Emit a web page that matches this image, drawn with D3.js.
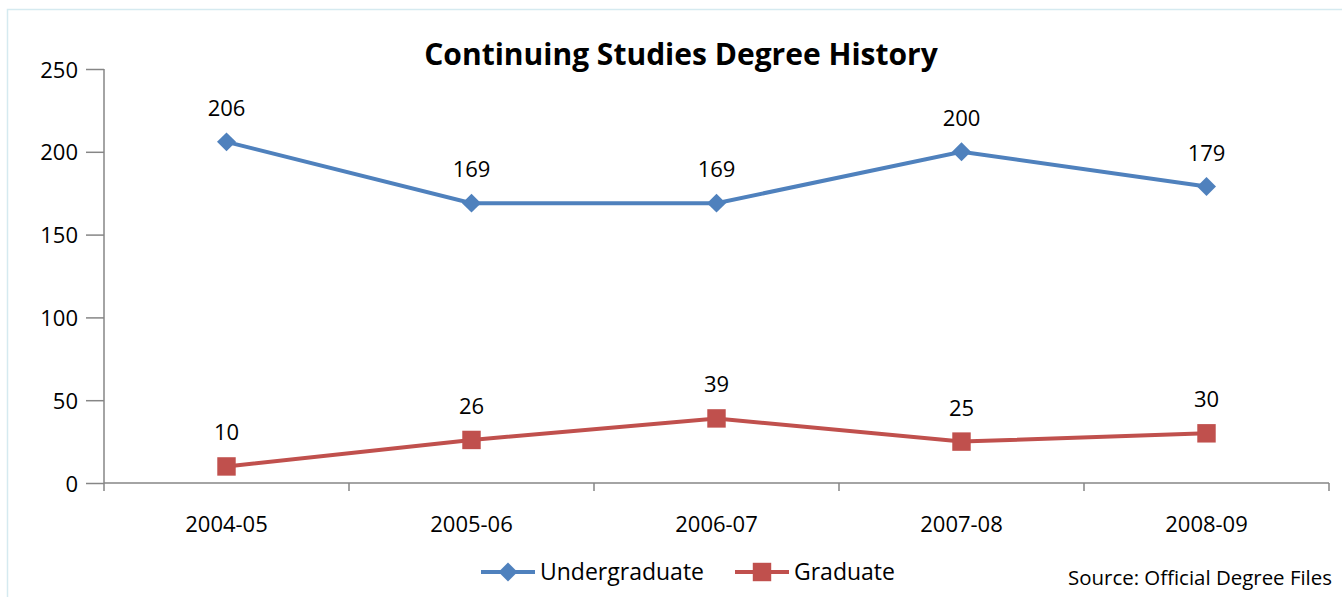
<!DOCTYPE html>
<html>
<head>
<meta charset="utf-8">
<script src="https://cdn.jsdelivr.net/npm/d3@7"></script>
<style>
  html, body { margin: 0; padding: 0; background: #fff; overflow: hidden; }
  svg { display: block; }
  text { font-family: "Open Sans", "Liberation Sans", sans-serif; fill: #000; }
</style>
</head>
<body>
<div id="chart"></div>
<script>
// Data
const years = ["2004-05", "2005-06", "2006-07", "2007-08", "2008-09"];
const undergraduate = [206, 169, 169, 200, 179];
const graduate = [10, 26, 39, 25, 30];
const yTicks = [0, 50, 100, 150, 200, 250];

const width = 1342, height = 597;
const margin = { top: 69, right: 13, bottom: 114, left: 104 };
const innerWidth = width - margin.left - margin.right;
const innerHeight = height - margin.top - margin.bottom;

const svg = d3.select("#chart")
    .append("svg")
    .attr("width", width)
    .attr("height", height);

// outer chart border (cut at right/bottom like the reference)
svg.append("path")
    .attr("d", `M7.5,${height}V9.5H${width}`)
    .attr("fill", "none")
    .attr("stroke", "#d5eaf0")
    .attr("stroke-width", 1.5);

const innerChart = svg.append("g")
    .attr("transform", `translate(${margin.left}, ${margin.top})`);

const xScale = d3.scaleBand().domain(years).range([0, innerWidth]);
const yScale = d3.scaleLinear().domain([0, 250]).range([innerHeight, 0]);

// Y axis
const leftAxis = d3.axisLeft(yScale).tickValues(yTicks).tickSize(18).tickPadding(8);
const yAxis = innerChart.append("g").call(leftAxis);
yAxis.select(".domain").attr("d", `M0,0V${innerHeight}`);
yAxis.selectAll("text").attr("dy", null).attr("y", 8);

// X axis
const bottomAxis = d3.axisBottom(xScale).tickSize(0).tickPadding(28);
const xAxis = innerChart.append("g")
    .attr("transform", `translate(0, ${innerHeight})`)
    .call(bottomAxis);
xAxis.select(".domain").attr("d", `M0,0H${innerWidth}`);
xAxis.selectAll("text").attr("dy", null).attr("y", 49);
// boundary ticks between categories
xAxis.selectAll(".bound")
    .data(d3.range(years.length + 1))
    .join("line")
    .attr("class", "bound")
    .attr("x1", i => i * xScale.bandwidth())
    .attr("x2", i => i * xScale.bandwidth())
    .attr("y1", 0).attr("y2", 8);

[yAxis, xAxis].forEach(ax => {
    ax.attr("font-size", 22).attr("font-family", "'Open Sans', sans-serif");
    ax.selectAll(".domain, line").attr("stroke", "#868686").attr("stroke-width", 1.5);
    ax.selectAll("text").attr("fill", "#000");
});

const cx = d => xScale(d) + xScale.bandwidth() / 2;

const series = [
    { name: "Undergraduate", values: undergraduate, color: "#4f81bd", shape: d3.symbolSquare, size: 180, rotate: 45 },
    { name: "Graduate", values: graduate, color: "#c0504d", shape: d3.symbolSquare, size: 340, rotate: 0 }
];

const line = d3.line().x((d, i) => cx(years[i])).y(d => yScale(d));

series.forEach(s => {
    innerChart.append("path")
        .datum(s.values)
        .attr("d", line)
        .attr("fill", "none")
        .attr("stroke", s.color)
        .attr("stroke-width", 4);

    innerChart.selectAll(null)
        .data(s.values)
        .join("path")
        .attr("transform", (d, i) => `translate(${cx(years[i])}, ${yScale(d)}) rotate(${s.rotate})`)
        .attr("d", d3.symbol().type(s.shape).size(s.size))
        .attr("fill", s.color);

    innerChart.selectAll(null)
        .data(s.values)
        .join("text")
        .attr("x", (d, i) => cx(years[i]))
        .attr("y", d => yScale(d) - 26)
        .attr("text-anchor", "middle")
        .attr("font-size", 22)
        .text(d => d);
});

// Title
svg.append("text")
    .text("Continuing Studies Degree History")
    .attr("x", 681)
    .attr("y", 65)
    .attr("text-anchor", "middle")
    .attr("font-size", 30)
    .attr("font-weight", "bold");

// Legend
const legend = svg.append("g").attr("transform", "translate(481, 572)");
series.forEach((s, i) => {
    const g = legend.append("g").attr("transform", `translate(${i * 254}, 0)`);
    g.append("line")
        .attr("x1", 0).attr("x2", 54)
        .attr("stroke", s.color).attr("stroke-width", 4);
    g.append("path")
        .attr("transform", `translate(27, 0) rotate(${s.rotate})`)
        .attr("d", d3.symbol().type(s.shape).size(s.size))
        .attr("fill", s.color);
    g.append("text")
        .attr("x", 59).attr("y", 8)
        .attr("font-size", 23)
        .text(s.name);
});

// Source note
svg.append("text")
    .text("Source: Official Degree Files")
    .attr("x", 1332)
    .attr("y", 585)
    .attr("text-anchor", "end")
    .attr("font-size", 20)
    .attr("textLength", 264)
    .attr("lengthAdjust", "spacingAndGlyphs");
</script>
</body>
</html>
